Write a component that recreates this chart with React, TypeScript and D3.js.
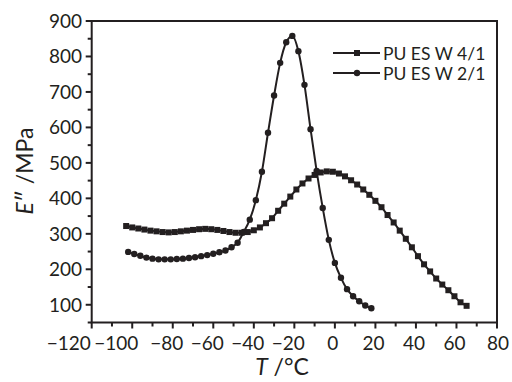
import React from "react";
import * as d3 from "d3";

// PU ES W 4/1 (squares)
const tempS = [-103,-100,-97,-94,-91,-88,-85,-82,-79,-76,-73,-70,-67,-64,-61,-58,-55,-52,-49,-46,-43,-40,-37,-34,-31,-28,-25,-22,-19,-16,-13,-10,-7,-4,-1,2,5,8,11,14,17,20,23,26,29,32,35,38,41,44,47,50,53,56,59,62,65];
const valS = [322,318,315,312,309,307,305,304,305,307,309,311,313,314,313,311,308,305,303,303,305,310,318,330,344,365,385,405,425,442,456,466,473,476,475,470,462,451,439,425,410,393,375,353,332,309,286,262,237,214,194,174,157,141,124,107,97];

// PU ES W 2/1 (circles)
const tempC = [-102,-99,-96,-93,-90,-87,-84,-81,-78,-75,-72,-69,-66,-63,-60,-57,-54,-51,-48,-45,-42,-39,-36,-33,-30,-27,-24,-21,-18,-15,-12,-9,-6,-3,0,3,6,9,12,15,18];
const valC = [249,243,238,233,230,228,228,228,229,230,232,234,237,240,244,248,253,262,275,305,340,395,475,585,690,782,840,858,815,720,595,477,373,283,218,176,144,124,110,98,90];

const xTicks = [-120,-100,-80,-60,-40,-20,0,20,40,60,80];
const yTicks = [100,200,300,400,500,600,700,800,900];
const seriesNames = ["PU ES W 4/1", "PU ES W 2/1"];

const INK = "#231f20";
const FONT = "Lato, 'Open Sans', sans-serif";

export default function App() {
  const x = d3.scaleLinear().domain([-120, 80]).range([91.7, 497]);
  const y = d3.scaleLinear().domain([50, 900]).range([322.5, 21]);
  const line = d3
    .line<[number, number]>()
    .x((d) => x(d[0]))
    .y((d) => y(d[1]))
    .curve(d3.curveMonotoneX);

  const dataS: [number, number][] = tempS.map((t, i) => [t, valS[i]]);
  const dataC: [number, number][] = tempC.map((t, i) => [t, valC[i]]);

  const xMinor = d3.range(-120, 81, 10);
  const yMinor = d3.range(50, 901, 50);

  const labelShift = (t: number) => {
    if (t === -120) return -23;
    if (t === -100) return -16;
    if (t < 0) return -6;
    if (t === 80) return 1;
    return -2;
  };
  const fmt = (t: number) => (t < 0 ? "\u2212" + Math.abs(t) : String(t));

  const [x0, x1] = x.range();
  const [yb, yt] = y.range();

  return (
    <svg
      width={512}
      height={382}
      style={{ position: "fixed", left: 0, top: 0, background: "#fff" }}
      fontFamily={FONT}
    >
      <rect x={0} y={0} width={512} height={382} fill="#fff" />
      {/* frame */}
      <rect x={x0} y={yt} width={x1 - x0} height={yb - yt} fill="none" stroke={INK} strokeWidth={2} />
      {/* x ticks */}
      {xMinor.map((t) => (
        <line key={"xm" + t} x1={x(t)} x2={x(t)} y1={yb} y2={yb + (t % 20 === 0 ? 6 : 4)} stroke={INK} strokeWidth={2} />
      ))}
      {xTicks.map((t) => (
        <text key={"xl" + t} x={x(t) + labelShift(t)} y={350} textAnchor="middle" fontSize={19} fill={INK}>
          {fmt(t)}
        </text>
      ))}
      {/* y ticks */}
      {yMinor.map((v) => (
        <line key={"ym" + v} x1={x0} x2={x0 - (v % 100 === 0 ? 6 : 4)} y1={y(v)} y2={y(v)} stroke={INK} strokeWidth={2} />
      ))}
      {yTicks.map((v) => (
        <text key={"yl" + v} x={82} y={y(v) + 6.8} textAnchor="end" fontSize={19} fill={INK}>
          {v}
        </text>
      ))}
      {/* axis titles */}
      <text x={282} y={375} textAnchor="middle" fontSize={23} fill={INK}>
        <tspan fontStyle="italic">T</tspan>
        <tspan> /°C</tspan>
      </text>
      <text transform="translate(33,171) rotate(-90)" textAnchor="middle" fontSize={23} fill={INK}>
        <tspan fontStyle="italic">E</tspan>
        <tspan>″ /MPa</tspan>
      </text>
      {/* series */}
      <path d={line(dataS) || ""} fill="none" stroke={INK} strokeWidth={2} />
      {dataS.map((d, i) => (
        <rect key={"s" + i} x={x(d[0]) - 3} y={y(d[1]) - 3} width={6} height={6} fill={INK} />
      ))}
      <path d={line(dataC) || ""} fill="none" stroke={INK} strokeWidth={2} />
      {dataC.map((d, i) => (
        <circle key={"c" + i} cx={x(d[0])} cy={y(d[1])} r={3.2} fill={INK} />
      ))}
      {/* legend */}
      <g>
        <line x1={333} x2={380} y1={53} y2={53} stroke={INK} strokeWidth={2} />
        <rect x={354} y={50} width={6} height={6} fill={INK} />
        <text x={383} y={59.5} fontSize={17.5} fill={INK}>{seriesNames[0]}</text>
        <line x1={333} x2={380} y1={73} y2={73} stroke={INK} strokeWidth={2} />
        <circle cx={357} cy={73} r={3.2} fill={INK} />
        <text x={383} y={79.5} fontSize={17.5} fill={INK}>{seriesNames[1]}</text>
      </g>
    </svg>
  );
}
